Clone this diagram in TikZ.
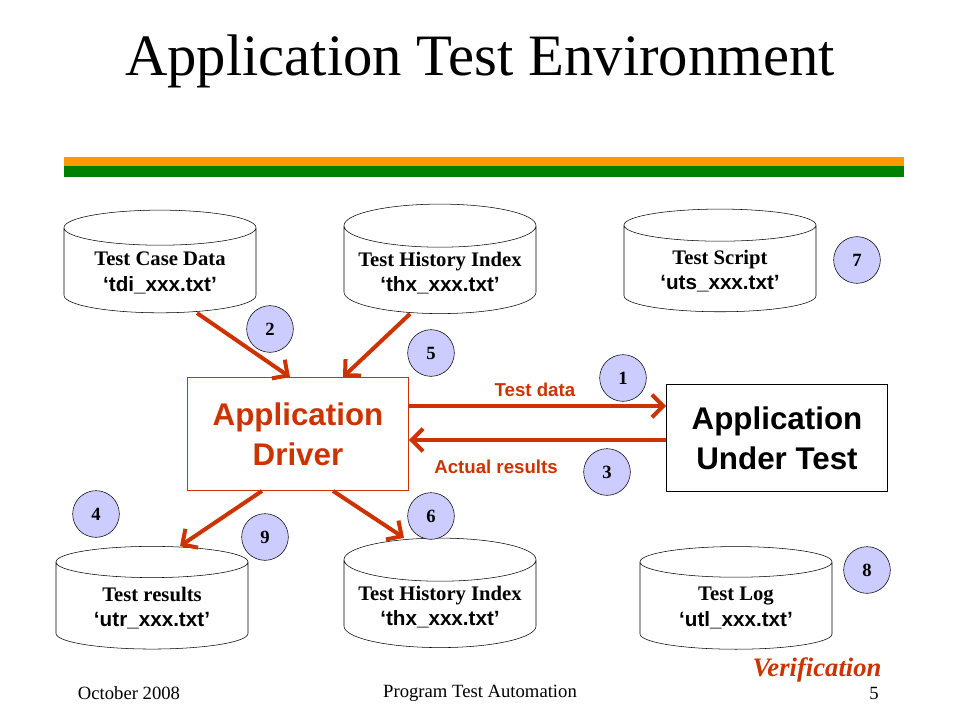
\documentclass[tikz,border=0pt]{standalone}
\usepackage{fontspec}
\setmainfont{Liberation Serif}
\setsansfont{Liberation Sans}
\usepackage{tikz}
\usetikzlibrary{shapes.geometric, arrows.meta, positioning, calc}
\definecolor{barorange}{RGB}{255, 153, 0}
\definecolor{bargreen}{RGB}{0, 128, 0}
\definecolor{rustred}{RGB}{204, 51, 0}
\definecolor{steplilac}{RGB}{204, 204, 255}

\begin{document}
\begin{tikzpicture}[
        x=0.75pt, y=-0.75pt,
        datafile/.style={draw, cylinder, shape border rotate=90, aspect=0.25,
                    minimum width=144pt, minimum height=77pt, align=center,
                    font=\fontsize{15.5}{19}\selectfont\bfseries},
        stepno/.style={draw, circle, fill=steplilac, minimum size=35pt, inner sep=0pt,
                    font=\fontsize{14}{16}\selectfont\bfseries},
        flow/.style={draw=rustred, line width=3pt, -{Straight Barb[length=8.5pt, width=17pt]}},
        flowlabel/.style={text=rustred, font=\sffamily\bfseries\fontsize{14}{16}\selectfont},
        footer/.style={font=\fontsize{14}{16}\selectfont}
      ]
        \useasboundingbox (0,0) rectangle (960,720);
        % title and bars
        \node[font=\fontsize{44}{50}\selectfont] (title) at (480,61) {Application Test Environment};
        \fill[barorange] (64,157) rectangle (904,166);
        \fill[bargreen] (64,166) rectangle (904,177);
        % data files
        \node[datafile] (tcd) at (160,273) {Test Case Data\\ \sffamily ‘tdi\_xxx.txt’};
        \node[datafile] (thin) at (440,273) {Test History Index\\ \sffamily ‘thx\_xxx.txt’};
        \node[datafile] (uts) at (720,271) {Test Script\\ \sffamily ‘uts\_xxx.txt’};
        \node[datafile] (utr) at (152,608) {Test results\\ \sffamily ‘utr\_xxx.txt’};
        \node[datafile] (thout) at (440,607) {Test History Index\\ \sffamily ‘thx\_xxx.txt’};
        \node[datafile] (utl) at (736,608) {Test Log\\ \sffamily ‘utl\_xxx.txt’};
        % driver and application
        \node[draw=rustred, minimum width=166pt, minimum height=85pt, align=center, text=rustred,
              font=\sffamily\bfseries\fontsize{23.5}{30}\selectfont] (driver) at (298,434)
              {Application\\ Driver};
        \node[draw, minimum width=166pt, minimum height=80pt, align=center,
              font=\sffamily\bfseries\fontsize{23.5}{30}\selectfont] (aut) at (777,438)
              {Application\\ Under Test};
        % step numbers
        \node[stepno] (s1) at (623,378) {1};
        \node[stepno] (s2) at (270,329) {2};
        \node[stepno] (s3) at (607,472) {3};
        \node[stepno] (s4) at (96,514) {4};
        \node[stepno] (s5) at (431,353) {5};
        \node[stepno] (s6) at (431,516) {6};
        \node[stepno] (s7) at (857,260) {7};
        \node[stepno] (s8) at (867,570) {8};
        \node[stepno] (s9) at (265,537) {9};
        % connectors
        \draw[flow] ($(tcd.south)+(37,0)$) -- ($(driver.north)+(-8,0)$);
        \draw[flow] ($(thin.south)+(-30,0)$) -- ($(driver.north)+(45,0)$);
        \draw[flow] ($(driver.east)+(0,-28)$) -- node[flowlabel, above=2pt, pos=0.49]{Test data}
              ($(aut.west)+(0,-32)$);
        \draw[flow] ($(aut.west)+(0,2)$) -- ($(driver.east)+(0,6)$);
        \node[flowlabel] (actual) at (496,467) {Actual results};
        \draw[flow] ($(driver.south)+(-36,0)$) -- ($(utr.north)+(28,0)$);
        \draw[flow] ($(driver.south)+(35,0)$) -- ($(thout.north)+(-36,0)$);
        % footer
        \node[text=rustred, font=\fontsize{20}{24}\selectfont\bfseries\itshape] (verif) at (817,670) {Verification};
        \node[footer] (date) at (129,693) {October 2008};
        \node[footer] (course) at (480,693) {Program Test Automation};
        \node[footer] (page) at (874,693) {5};
      \end{tikzpicture}
\end{document}
